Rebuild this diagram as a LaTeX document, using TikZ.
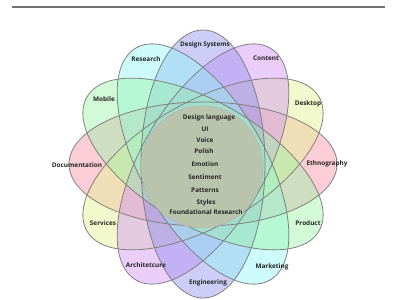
\documentclass[tikz,border=0pt]{standalone}
\usepackage{fontspec}
\setmainfont{Open Sans}
\begin{document}
\begin{tikzpicture}[x=1pt,y=-1pt,
  petaledge/.style={draw=black!50,line width=0.8pt},
  lbl/.style={font=\fontsize{6.4}{7}\selectfont\bfseries,text=black!85,inner sep=0pt},
  clbl/.style={font=\fontsize{6.4}{7}\selectfont\bfseries,text=black!85,inner sep=0pt}]
\definecolor{cpink}{RGB}{244,144,166}
\definecolor{cyel}{RGB}{226,244,144}
\definecolor{cpur}{RGB}{210,144,244}
\definecolor{cblue}{RGB}{144,144,239}
\definecolor{ccyan}{RGB}{144,244,244}
\definecolor{cgreen}{RGB}{155,244,166}
\definecolor{ccore}{RGB}{186,196,172}
\useasboundingbox (0,0) rectangle (400,300);
\coordinate (c) at (203,164);
\coordinate (l1) at (12,7);
\coordinate (l2) at (385,7);
\draw[black!55,line width=1.4pt] (l1) -- (l2);
\foreach \a/\col in {0/cpink,30/cyel,60/cpur,90/cblue,120/ccyan,150/cgreen}{
  \fill[\col,fill opacity=0.45,rotate around={\a:(c)}] (c) ellipse [x radius=134pt, y radius=62pt];
}
\foreach \a in {0,30,60,90,120,150}{
  \draw[petaledge,rotate around={\a:(c)}] (c) ellipse [x radius=134pt, y radius=62pt];
}
\node[circle,fill=ccore,draw=black!30,line width=0.4pt,minimum size=122pt,inner sep=0pt] (core) at (202,167) {};
\node[lbl] (ds) at (205,45) {Design Systems};
\node[lbl] (re) at (146,59) {Research};
\node[lbl] (co) at (266,58) {Content};
\node[lbl] (mo) at (104,99) {Mobile};
\node[lbl] (doc) at (77,165) {Documentation};
\node[lbl] (de) at (308,104) {Desktop};
\node[lbl] (et) at (327,164) {Ethnography};
\node[lbl] (se) at (103,223) {Services};
\node[lbl] (pr) at (308,223) {Product};
\node[lbl] (ar) at (146,265) {Architetcure};
\node[lbl] (en) at (208,283) {Engineering};
\node[lbl] (ma) at (272,267) {Marketing};
\node[clbl] (t1) at (209,118) {Design language};
\node[clbl] (t2) at (205,129) {UI};
\node[clbl] (t3) at (205,140) {Voice};
\node[clbl] (t4) at (204,151) {Polish};
\node[clbl] (t5) at (205,164) {Emotion};
\node[clbl] (t6) at (205,177) {Sentiment};
\node[clbl] (t7) at (205,190) {Patterns};
\node[clbl] (t8) at (206,203) {Styles};
\node[clbl] (t9) at (206,212) {Foundational Research};
\end{tikzpicture}
\end{document}
